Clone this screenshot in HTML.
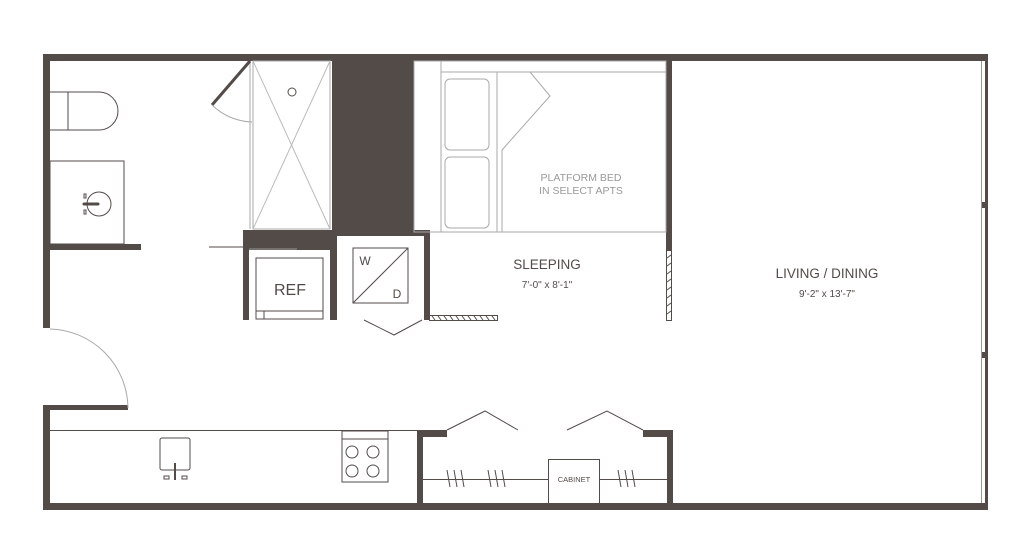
<!DOCTYPE html>
<html><head><style>html,body{margin:0;padding:0;background:#fff}svg{display:block}</style></head>
<body>
<svg width="1024" height="550" viewBox="0 0 1024 550" xmlns="http://www.w3.org/2000/svg" font-family="Liberation Sans, sans-serif">
<g fill="#534b48">
<rect x="43" y="54" width="945" height="7"/>
<rect x="43" y="503" width="945" height="7"/>
<rect x="43" y="54" width="7" height="274"/>
<rect x="43" y="405" width="7" height="105"/>
<rect x="43" y="405" width="85" height="5"/>
<rect x="50" y="244" width="91" height="6"/>
<rect x="332" y="61" width="82" height="171"/>
<rect x="243" y="230" width="94" height="20"/>
<rect x="243" y="230" width="6" height="90"/>
<rect x="330" y="230" width="7" height="90"/>
<rect x="330" y="230" width="100" height="6"/>
<rect x="424" y="230" width="6" height="90"/>
<rect x="666" y="54" width="6" height="196"/>
<rect x="985" y="54" width="3" height="456"/>
<rect x="981" y="202" width="7" height="6"/>
<rect x="981" y="352" width="7" height="6"/>
<rect x="417" y="430" width="6" height="80"/>
<rect x="417" y="430" width="30" height="7"/>
<rect x="667" y="430" width="6" height="80"/>
<rect x="643" y="430" width="30" height="7"/>
</g>
<g fill="none" stroke="#534b48" stroke-width="1">
<line x1="981.5" y1="61" x2="981.5" y2="503" stroke="#999"/>
<path d="M50 92 H99 A19 19 0 0 1 99 130 H50" />
<line x1="68" y1="92" x2="68" y2="130"/>
<rect x="50" y="161" width="74" height="83"/>
<circle cx="99" cy="204" r="12"/>
<line x1="84" y1="204" x2="98" y2="204" stroke-width="3" stroke-linecap="round"/>
<rect x="84" y="194" width="2" height="4"/><rect x="84" y="210" width="2" height="4"/>
<rect x="253" y="61" width="77" height="168" stroke="#aaa"/>
<line x1="250" y1="61" x2="250" y2="229" stroke="#aaa"/>
<line x1="253" y1="61" x2="330" y2="229" stroke="#bbb"/>
<line x1="330" y1="61" x2="253" y2="229" stroke="#bbb"/>
<circle cx="292" cy="92" r="4"/>
<line x1="250" y1="61" x2="212" y2="105" stroke-width="3"/>
<path d="M212 105 A60 60 0 0 0 252 122" stroke="#aaa"/>
<line x1="209" y1="247" x2="295" y2="247"/>
<line x1="249" y1="249" x2="297" y2="249" stroke="#999"/>
<rect x="256" y="258" width="67" height="61"/>
<line x1="256" y1="311" x2="323" y2="311"/>
<line x1="264" y1="311" x2="264" y2="319"/>
<rect x="353" y="248" width="55" height="55"/>
<line x1="353" y1="303" x2="408" y2="248"/>
<polyline points="364,320 394,335 422,320"/>
<rect x="414" y="61" width="252" height="171" stroke="#aaa"/>
<line x1="441" y1="72" x2="666" y2="72" stroke="#aaa"/>
<line x1="441" y1="61" x2="441" y2="232" stroke="#aaa"/>
<line x1="497" y1="72" x2="497" y2="232" stroke="#aaa"/>
<rect x="445" y="79" width="44" height="71" rx="5" stroke="#aaa"/>
<rect x="445" y="157" width="44" height="71" rx="5" stroke="#aaa"/>
<polyline points="530,72 550,96 502,150 502,232" stroke="#aaa"/>
<rect x="429.5" y="315.5" width="68" height="5"/>
<path d="M432 316 l3 4 M438 316 l3 4 M444 316 l3 4 M450 316 l3 4 M456 316 l3 4 M462 316 l3 4 M468 316 l3 4 M474 316 l3 4 M480 316 l3 4 M486 316 l3 4 M492 316 l3 4"/>
<rect x="666.5" y="250.5" width="5" height="70"/>
<path d="M667 258 l4 -3 M667 266 l4 -3 M667 274 l4 -3 M667 282 l4 -3 M667 290 l4 -3 M667 298 l4 -3 M667 306 l4 -3 M667 314 l4 -3"/>
<path d="M50 329 A80 80 0 0 1 128 408" stroke="#aaa"/>
<line x1="50" y1="430.5" x2="417" y2="430.5"/>
<rect x="160" y="438" width="30" height="32" rx="2"/>
<line x1="175" y1="463" x2="175" y2="480" stroke-width="2"/>
<rect x="164" y="476" width="5" height="3"/><rect x="182" y="476" width="5" height="3"/>
<rect x="342" y="431" width="46" height="51"/>
<line x1="342" y1="439" x2="388" y2="439"/>
<circle cx="352" cy="452" r="6"/><circle cx="373" cy="452" r="6"/>
<circle cx="352" cy="471" r="6"/><circle cx="373" cy="471" r="6"/>
<polyline points="447,430 485,411 518,430"/>
<polyline points="567,430 607,411 643,430"/>
<line x1="423" y1="479.5" x2="667" y2="479.5"/>
<rect x="548.5" y="459.5" width="51" height="44" fill="#fff"/>
<path d="M447 470 l3 17 M454 470 l3 17 M461 470 l3 17 M488 470 l3 17 M495 470 l3 17 M502 470 l3 17 M618 470 l3 17 M625 470 l3 17 M632 470 l3 17"/>
</g>
<g fill="#534b48" text-anchor="middle">
<text x="290" y="295" font-size="16">REF</text>
<text x="365" y="265" font-size="12">W</text>
<text x="397" y="298" font-size="12">D</text>
<text x="581" y="181" font-size="10.5" fill="#999">PLATFORM BED</text>
<text x="581" y="194" font-size="10.5" fill="#999">IN SELECT APTS</text>
<text x="547" y="269" font-size="13.5">SLEEPING</text>
<text x="547" y="288" font-size="10">7'-0" x 8'-1"</text>
<text x="827" y="278" font-size="13.5">LIVING / DINING</text>
<text x="827" y="297" font-size="10">9'-2" x 13'-7"</text>
<text x="574" y="482" font-size="7.5">CABINET</text>
</g>
</svg>
</body></html>
